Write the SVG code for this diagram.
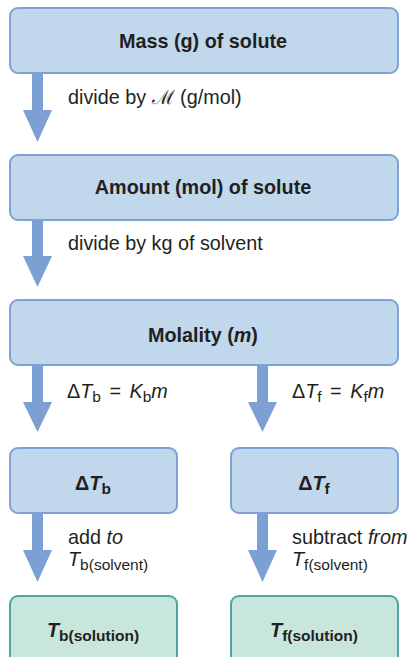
<svg xmlns="http://www.w3.org/2000/svg" width="410" height="657" viewBox="0 0 410 657">
<style>
.box{fill:#c1d8ec;stroke:#7fa1d5;stroke-width:2}
.res{fill:#c9e6dc;stroke:#4ba7a1;stroke-width:2}
.arr{fill:#7c9fd4}
.t{font-family:"Liberation Sans",Arial,sans-serif;font-weight:bold;font-size:19.8px;fill:#231f20;text-anchor:middle}
.l{font-family:"Liberation Sans",Arial,sans-serif;font-size:19.8px;fill:#231f20}
.sub{font-size:15.5px}
</style>
<rect width="410" height="657" fill="#ffffff"/>
<g id="connectors">
<polygon class="arr" points="32,73 43,73 43,110 52,110 37.5,142 23,110 32,110"/>
<polygon class="arr" points="32,220 43,220 43,256 52,256 37.5,287 23,256 32,256"/>
<polygon class="arr" points="32,365 43,365 43,402 52,402 37.5,432 23,402 32,402"/>
<polygon class="arr" points="257,365 268,365 268,402 277,402 262.5,432 248,402 257,402"/>
<polygon class="arr" points="32,513 43,513 43,550 52,550 37.5,582 23,550 32,550"/>
<polygon class="arr" points="257,513 268,513 268,550 277,550 262.5,582 248,550 257,550"/>
<text class="l" x="68" y="104">divide by <tspan font-family="DejaVu Sans,sans-serif" font-weight="200">ℳ</tspan> (g/mol)</text>
<text class="l" x="68" y="250">divide by kg of solvent</text>
<text class="l" x="67" y="398">Δ<tspan font-style="italic">T</tspan><tspan class="sub" dy="4">b</tspan><tspan dy="-4" dx="3"> = </tspan><tspan dx="3" font-style="italic">K</tspan><tspan class="sub" dy="4">b</tspan><tspan dy="-4" font-style="italic">m</tspan></text>
<text class="l" x="292" y="398">Δ<tspan font-style="italic">T</tspan><tspan class="sub" dy="4">f</tspan><tspan dy="-4" dx="3"> = </tspan><tspan dx="3" font-style="italic">K</tspan><tspan class="sub" dy="4">f</tspan><tspan dy="-4" font-style="italic">m</tspan></text>
<text class="l" x="68" y="544">add <tspan font-style="italic">to</tspan></text>
<text class="l" x="68" y="566"><tspan font-style="italic">T</tspan><tspan class="sub" dy="4">b(solvent)</tspan></text>
<text class="l" x="292" y="544">subtract <tspan font-style="italic">from</tspan></text>
<text class="l" x="292" y="566"><tspan font-style="italic">T</tspan><tspan class="sub" dy="4">f(solvent)</tspan></text>
</g>
<g id="mass">
<rect class="box" x="10" y="8" width="388" height="65" rx="8"/>
<text class="t" x="203" y="48">Mass (g) of solute</text>
</g>
<g id="amount">
<rect class="box" x="10" y="155" width="388" height="65" rx="8"/>
<text class="t" x="203" y="194">Amount (mol) of solute</text>
</g>
<g id="molality">
<rect class="box" x="10" y="300" width="388" height="65" rx="8"/>
<text class="t" x="203" y="342">Molality (<tspan font-style="italic">m</tspan>)</text>
</g>
<g id="dTb">
<rect class="box" x="10" y="448" width="167" height="65" rx="8"/>
<text class="t" x="93" y="490">Δ<tspan font-style="italic">T</tspan><tspan class="sub" dy="4">b</tspan></text>
</g>
<g id="dTf">
<rect class="box" x="231" y="448" width="167" height="65" rx="8"/>
<text class="t" x="314" y="490">Δ<tspan font-style="italic">T</tspan><tspan class="sub" dy="4">f</tspan></text>
</g>
<g id="Tbsol">
<rect class="res" x="10" y="596" width="167" height="80" rx="8"/>
<text class="t" x="93" y="637"><tspan font-style="italic">T</tspan><tspan class="sub" dy="4">b(solution)</tspan></text>
</g>
<g id="Tfsol">
<rect class="res" x="231" y="596" width="167" height="80" rx="8"/>
<text class="t" x="314" y="637"><tspan font-style="italic">T</tspan><tspan class="sub" dy="4">f(solution)</tspan></text>
</g>
</svg>
